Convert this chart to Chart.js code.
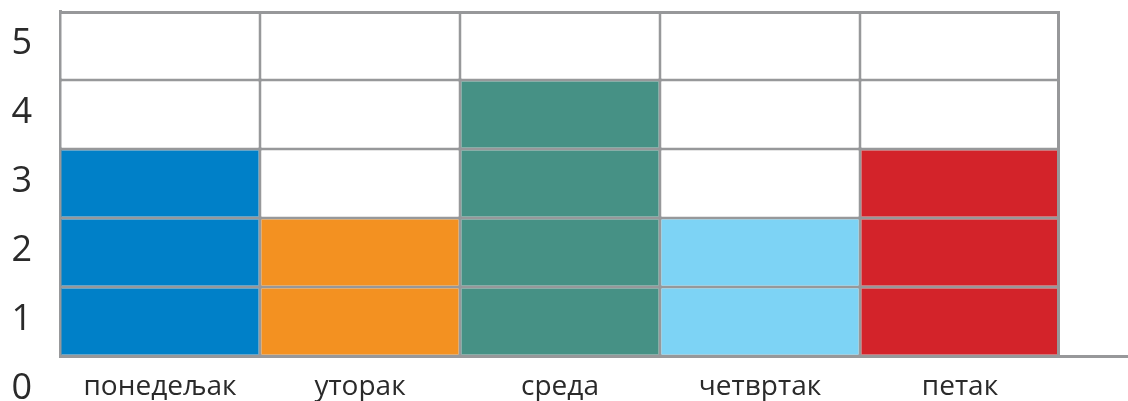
<!DOCTYPE html>
<html>
<head>
<meta charset="utf-8">
<script src="https://cdn.jsdelivr.net/npm/chart.js@4"></script>
<style>
  html, body { margin: 0; padding: 0; background: #ffffff; }
  #wrap { width: 1128px; height: 401px; }
</style>
</head>
<body>
<div id="wrap"><canvas id="c"></canvas></div>
<script>
const categories = ['понедељак', 'уторак', 'среда', 'четвртак', 'петак'];
const values = [3, 2, 4, 2, 3];
const barColors = ['#0080c8', '#f39121', '#469185', '#7dd3f5', '#d3232a'];
const yTickValues = [0, 1, 2, 3, 4, 5];
const yMax = 5;

const gridColor = '#97989a';
const textColor = '#2a2a2a';
const xPositions = categories.map((_, i) => i + 0.5);

// one stacked dataset per unit row; each cell is one unit
const datasets = [];
for (let r = 0; r < yMax; r++) {
  datasets.push({
    label: 'row' + (r + 1),
    data: xPositions.map(x => ({ x: x, y: 1 })),
    backgroundColor: categories.map((_, i) => (r < values[i] ? barColors[i] : '#ffffff')),
    borderColor: gridColor,
    borderSkipped: false,
    borderWidth: (ctx) => ({
      left: 1.5,
      right: ctx.dataIndex === categories.length - 1 ? 3 : 1.5,
      top: ctx.datasetIndex === yMax - 1 ? 3 : 1.5,
      bottom: 1.5
    }),
    barPercentage: 1,
    categoryPercentage: 1,
    inflateAmount: 0
  });
}

new Chart(document.getElementById('c'), {
  type: 'bar',
  data: { datasets },
  options: {
    responsive: true,
    maintainAspectRatio: false,
    animation: false,
    layout: { padding: { top: 11, right: 0, bottom: 0, left: 0 } },
    plugins: { legend: { display: false }, tooltip: { enabled: false } },
    scales: {
      x: {
        type: 'linear',
        stacked: true,
        min: 0,
        max: 5.34,
        offset: false,
        afterBuildTicks: (scale) => { scale.ticks = xPositions.map(v => ({ value: v })); },
        afterFit: (scale) => {
          scale.height = 45;
          scale.paddingLeft = 0;
          scale.paddingRight = 0;
        },
        grid: { display: false, drawTicks: false },
        border: { display: true, color: gridColor, width: 3 },
        ticks: {
          autoSkip: false,
          maxRotation: 0,
          padding: 14,
          color: textColor,
          font: { family: 'Open Sans', size: 28 },
          callback: (v, i) => categories[i]
        }
      },
      y: {
        stacked: true,
        min: 0,
        max: yMax,
        afterBuildTicks: (scale) => { scale.ticks = yTickValues.map(v => ({ value: v })); },
        afterFit: (scale) => {
          scale.width = 60;
          scale.paddingTop = 0;
          scale.paddingBottom = 0;
        },
        grid: { display: false, drawTicks: false },
        border: { display: true, color: gridColor, width: 3 },
        ticks: {
          color: textColor,
          crossAlign: 'center',
          padding: 28,
          labelOffset: 33,
          font: { family: 'Open Sans', size: 36 }
        }
      }
    }
  }
});
</script>
</body>
</html>
